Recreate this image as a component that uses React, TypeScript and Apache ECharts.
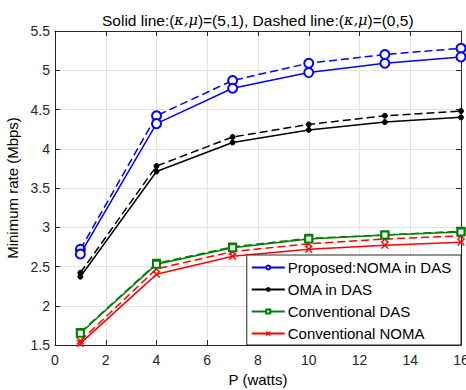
import React, { useEffect, useRef } from "react";
import * as echarts from "echarts";

const power = [1, 4, 7, 10, 13, 16];

const proposedSolid = [2.66, 4.32, 4.77, 4.97, 5.09, 5.17];
const proposedDashed = [2.72, 4.42, 4.87, 5.09, 5.2, 5.28];
const omaSolid = [2.37, 3.71, 4.08, 4.24, 4.34, 4.4];
const omaDashed = [2.42, 3.78, 4.15, 4.31, 4.42, 4.48];
const convDasSolid = [1.65, 2.53, 2.74, 2.85, 2.9, 2.94];
const convDasDashed = [1.66, 2.54, 2.75, 2.86, 2.9, 2.95];
const convNomaSolid = [1.52, 2.4, 2.63, 2.72, 2.77, 2.81];
const convNomaDashed = [1.55, 2.47, 2.69, 2.79, 2.85, 2.89];

const legendNames = [
  "Proposed:NOMA in DAS",
  "OMA in DAS",
  "Conventional DAS",
  "Conventional NOMA",
];

const FONT = "Liberation Sans";
const AXIS = "#262626";
const XMARK =
  "path://M1,0 L5,4 L9,0 L10,1 L6,5 L10,9 L9,10 L5,6 L1,10 L0,9 L4,5 L0,1 Z";

function pairs(ys: number[]) {
  return power.map((x, i) => [x, ys[i]]);
}

export default function App() {
  const ref = useRef<HTMLDivElement>(null);
  useEffect(() => {
    document.body.style.margin = "0";
    if (!ref.current) return;
    const chart = echarts.init(ref.current, null, { renderer: "svg" });

    const styles = [
      { color: "#0000ff", symbol: "emptyCircle", size: 9, bw: 1.2 },
      { color: "#000000", symbol: "circle", size: 5, bw: 1 },
      { color: "#008000", symbol: "emptyRect", size: 7, bw: 1.5 },
      { color: "#ff0000", symbol: XMARK, size: 7, bw: 0.6 },
    ];
    const solids = [proposedSolid, omaSolid, convDasSolid, convNomaSolid];
    const dashes = [proposedDashed, omaDashed, convDasDashed, convNomaDashed];

    const series: any[] = [];
    for (let k = 0; k < 4; k++) {
      const st = styles[k];
      series.push({
        name: legendNames[k] + " (dashed)",
        type: "line",
        data: pairs(dashes[k]),
        symbol: st.symbol,
        symbolSize: st.size,
        showAllSymbol: true,
        lineStyle: { color: st.color, width: 1.5, type: [8, 4] },
        itemStyle: { color: st.color, borderColor: st.color, borderWidth: st.bw },
        z: 2,
      });
    }
    for (let k = 0; k < 4; k++) {
      const st = styles[k];
      series.push({
        name: legendNames[k],
        type: "line",
        data: pairs(solids[k]),
        symbol: st.symbol,
        symbolSize: st.size,
        showAllSymbol: true,
        lineStyle: { color: st.color, width: 1.5 },
        itemStyle: { color: st.color, borderColor: st.color, borderWidth: st.bw },
        z: 3,
      });
    }

    const grid = { left: 55, right: 5, top: 31, bottom: 45 };

    chart.setOption({
      animation: false,
      backgroundColor: "#ffffff",
      textStyle: { fontFamily: FONT },
      title: {
        text: "Solid line:({i|κ,μ})=(5,1), Dashed line:({i|κ,μ})=(0,5)",
        left: 97,
        top: 7,
        textStyle: {
          fontFamily: FONT,
          fontSize: 15.5,
          fontWeight: "normal",
          color: "#000000",
          rich: {
            i: {
              fontFamily: "DejaVu Serif",
              fontStyle: "italic",
              fontSize: 14.5,
              color: "#000000",
            },
          },
        },
      },
      grid: { ...grid, show: false, containLabel: false, outerBoundsMode: "none" },
      legend: {
        data: legendNames,
        orient: "vertical",
        right: 5,
        bottom: 45,
        backgroundColor: "#ffffff",
        borderColor: AXIS,
        borderWidth: 1,
        borderRadius: 0,
        padding: [5, 9, 4, 4],
        itemWidth: 33,
        itemHeight: 5,
        itemGap: 7,
        itemStyle: { borderWidth: 1 },
        textStyle: { fontFamily: FONT, fontSize: 15, color: "#000000", padding: [0, 0, 0, -2] },
        z: 10,
      },
      xAxis: [
        {
          type: "value",
          min: 0,
          max: 16,
          interval: 2,
          name: "P (watts)",
          nameLocation: "middle",
          nameGap: 25,
          nameTextStyle: { fontFamily: FONT, fontSize: 15, color: "#000000" },
          axisLine: { show: true, onZero: false, lineStyle: { color: AXIS, width: 1 } },
          axisTick: { show: true, inside: true, length: 5, lineStyle: { color: AXIS } },
          axisLabel: { fontFamily: FONT, fontSize: 14, color: AXIS, margin: 8 },
          splitLine: { show: true, lineStyle: { color: "#e3e3e3", width: 1 } },
        },
        {
          type: "value",
          position: "top",
          min: 0,
          max: 16,
          interval: 2,
          axisLine: { show: true, onZero: false, lineStyle: { color: AXIS, width: 1 } },
          axisTick: { show: true, inside: true, length: 5, lineStyle: { color: AXIS } },
          axisLabel: { show: false },
          splitLine: { show: false },
        },
      ],
      yAxis: [
        {
          type: "value",
          min: 1.5,
          max: 5.5,
          interval: 0.5,
          name: "Minimum rate (Mbps)",
          nameLocation: "middle",
          nameGap: 28,
          nameTextStyle: { fontFamily: FONT, fontSize: 15, color: "#000000" },
          axisLine: { show: true, onZero: false, lineStyle: { color: AXIS, width: 1 } },
          axisTick: { show: true, inside: true, length: 5, lineStyle: { color: AXIS } },
          axisLabel: { fontFamily: FONT, fontSize: 14, color: AXIS, margin: 5 },
          splitLine: { show: true, lineStyle: { color: "#e3e3e3", width: 1 } },
        },
        {
          type: "value",
          position: "right",
          min: 1.5,
          max: 5.5,
          interval: 0.5,
          axisLine: { show: true, onZero: false, lineStyle: { color: AXIS, width: 1 } },
          axisTick: { show: true, inside: true, length: 5, lineStyle: { color: AXIS } },
          axisLabel: { show: false },
          splitLine: { show: false },
        },
      ],
      series,
    });
    return () => chart.dispose();
  }, []);
  return <div ref={ref} style={{ width: 466, height: 390 }} />;
}
